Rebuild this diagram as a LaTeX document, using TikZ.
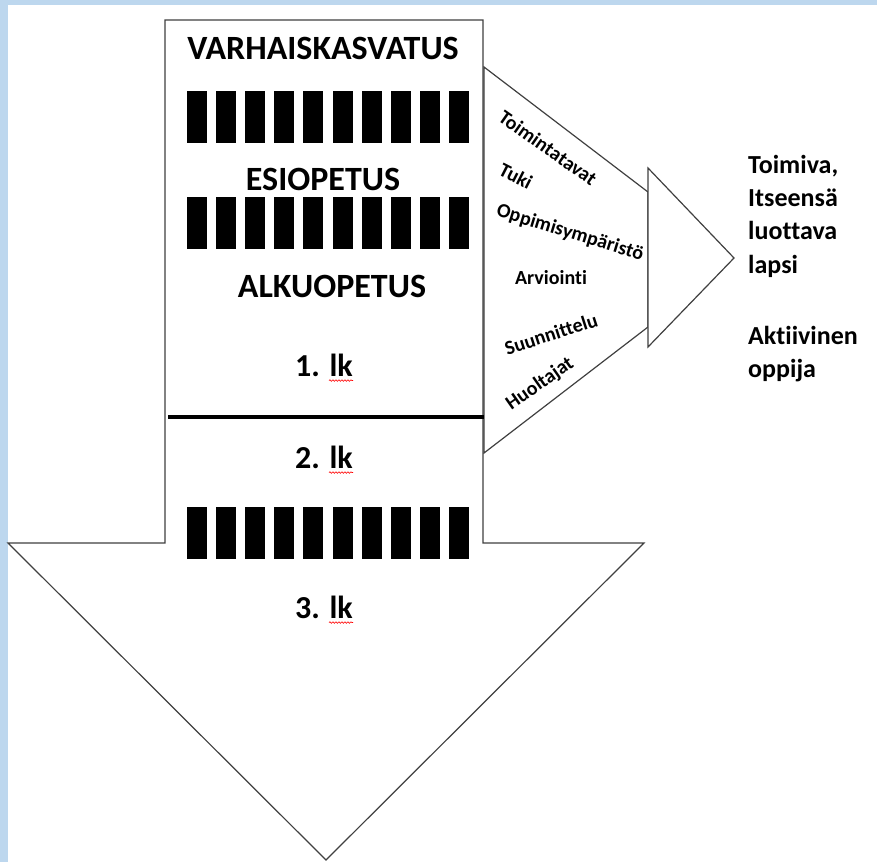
\documentclass[tikz,border=0pt]{standalone}
\usepackage{fontspec}
\setmainfont{Carlito}[Ligatures={NoCommon}]
\usetikzlibrary{decorations.pathmorphing}
\definecolor{pageblue}{HTML}{BDD7EE}
\definecolor{edge}{HTML}{404040}
\begin{document}
\begin{tikzpicture}[x=1pt,y=-1pt,
  outline/.style={draw=edge, line width=1.2pt, fill=white, line join=miter},
  barbox/.style={fill=black, draw=none},
  stage/.style={font=\fontsize{34}{38}\selectfont\bfseries, inner sep=0pt, anchor=center},
  grade/.style={font=\fontsize{32}{36}\selectfont\bfseries, inner sep=0pt, anchor=center},
  factor/.style={font=\fontsize{20}{22}\selectfont\bfseries, inner sep=0pt, anchor=center},
  goal/.style={font=\fontsize{26}{29}\selectfont\bfseries, inner sep=0pt, anchor=base west},
  squiggle/.style={draw=red, line width=0.6pt, decorate, decoration={snake, amplitude=0.8pt, segment length=3pt}}
]
\useasboundingbox (0,0) rectangle (877,862);
\fill[white] (0,0) rectangle (877,862);
\fill[pageblue] (0,0) rectangle (7.5,862);
\fill[pageblue] (0,0) rectangle (877,5);

% big down arrow
\draw[outline] (165,20) -- (483,20) -- (483,543) -- (644,543) -- (326,860) -- (8,543) -- (165,543) -- cycle;
% trapezoid (arrow body to the right)
\draw[outline] (484,67) -- (648,192) -- (648,327) -- (484,453) -- cycle;
% triangle head
\draw[outline] (648,168) -- (734,258) -- (648,347) -- cycle;

% bars
\foreach \yy in {91,197,507}{
  \foreach \i in {0,...,9}{
    \fill[barbox] (187+\i*29.1,\yy) rectangle ++(20,52);
  }
}
% thick separator
\draw[line width=4pt] (168,417) -- (484,417);

% stage labels
\node[stage] (varhais) at (323,48) {VARHAISKASVATUS};
\node[stage] (esio) at (323,179) {ESIOPETUS};
\node[stage] (alku) at (332,286) {ALKUOPETUS};

\node[grade] (lk1) at (324,365) {1. lk};
\node[grade] (lk2) at (324,457) {2. lk};
\node[grade] (lk3) at (324,607) {3. lk};
\draw[squiggle] (lk1.south east) ++(-24,4) -- ++(24,0);
\draw[squiggle] (lk2.south east) ++(-24,4) -- ++(24,0);
\draw[squiggle] (lk3.south east) ++(-24,4) -- ++(24,0);

% factors in the trapezoid
\node[factor, rotate=-35] (toim) at (548,148) {Toimintatavat};
\node[factor, rotate=-27] (tuki) at (516,176) {Tuki};
\node[factor, rotate=-17] (oppi) at (570,233) {Oppimisympäristö};
\node[factor] (arvi) at (551,278) {Arviointi};
\node[factor, rotate=18] (suun) at (551,334) {Suunnittelu};
\node[factor, rotate=35] (huol) at (540,384) {Huoltajat};

% goals
\node[goal] (g1) at (748,173) {Toimiva,};
\node[goal] (g2) at (748,206) {Itseensä};
\node[goal] (g3) at (748,239.5) {luottava};
\node[goal] (g4) at (748,273) {lapsi};
\node[goal] (g5) at (748,344) {Aktiivinen};
\node[goal] (g6) at (748,377) {oppija};
\end{tikzpicture}
\end{document}
